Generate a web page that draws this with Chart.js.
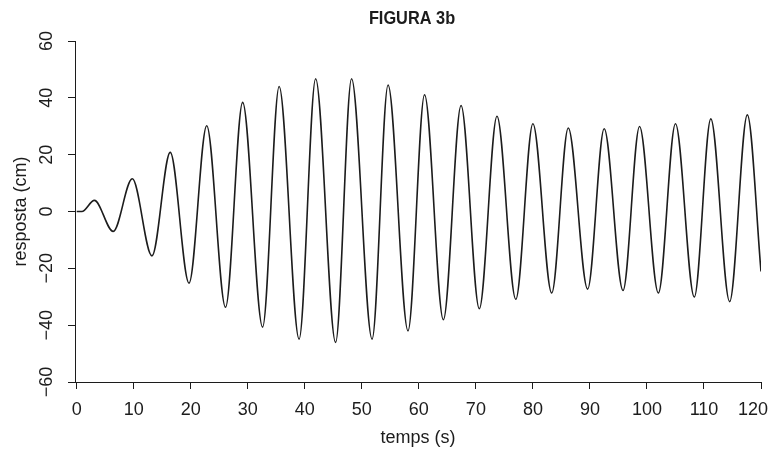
<!DOCTYPE html>
<html>
<head>
<meta charset="utf-8">
<script src="https://cdn.jsdelivr.net/npm/chart.js@4.4.0/dist/chart.umd.min.js"></script>
<style>
  html, body { margin: 0; padding: 0; background: #fff; }
  #wrap { width: 771px; height: 449px; }
</style>
</head>
<body>
<div id="wrap"><canvas id="fig3b"></canvas></div>
<script>
// peaks and troughs (time in s, response in cm)
const respTimes = [0, 0.9, 3.1, 6.4, 9.75, 13.2, 16.4, 19.7, 22.8, 26.1, 29.1, 32.6, 35.5, 39.0,
  41.9, 45.4, 48.2, 51.8, 54.6, 58.1, 61.0, 64.3, 67.4, 70.6, 73.7, 77.0, 80.0, 83.3,
  86.2, 89.6, 92.5, 95.8, 98.7, 102.0, 105.0, 108.3, 111.2, 114.5, 117.6, 120];
const respValues = [0, 0, 3.9, -7.0, 11.5, -15.6, 20.8, -25.2, 30.2, -33.7, 38.4, -40.7, 44.0, -44.9,
  46.7, -46.1, 46.7, -44.9, 44.5, -42.0, 41.1, -38.1, 37.3, -34.2, 33.5, -30.9, 30.9, -28.7,
  29.4, -27.3, 29.1, -27.8, 29.9, -28.7, 30.9, -30.1, 32.6, -31.7, 34.0, -21.1];

const xTicks = [0, 10, 20, 30, 40, 50, 60, 70, 80, 90, 100, 110, 120];
const yTicks = [-60, -40, -20, 0, 20, 40, 60];

const ink = '#1c1c1c';
const fontFam = "'Liberation Sans', Arial, sans-serif";

const points = respTimes.map((t, i) => ({ x: t, y: respValues[i] }));

const fmt = (v) => v < 0 ? '\u2212' + Math.abs(v) : String(v);

// title, rotated y tick labels and x tick labels (last one kept inside the canvas)
const extras = {
  id: 'extras',
  afterDraw(chart) {
    const ctx = chart.ctx;
    const xScale = chart.scales.x;
    const yScale = chart.scales.y;
    ctx.save();
    ctx.fillStyle = ink;
    ctx.textAlign = 'center';
    ctx.textBaseline = 'middle';

    ctx.save();
    ctx.translate(412, 19);
    ctx.scale(0.86, 1);
    ctx.font = 'bold 19px ' + fontFam;
    ctx.fillText('FIGURA 3b', 0, 0);
    ctx.restore();

    ctx.font = '18px ' + fontFam;
    yTicks.forEach((v) => {
      ctx.save();
      ctx.translate(47, yScale.getPixelForValue(v));
      ctx.rotate(-Math.PI / 2);
      ctx.fillText(fmt(v), 0, 0);
      ctx.restore();
    });

    xTicks.forEach((v) => {
      const w = ctx.measureText(String(v)).width;
      let px = xScale.getPixelForValue(v);
      px = Math.min(px, chart.width - 3 - w / 2);
      ctx.fillText(String(v), px, 410);
    });
    ctx.restore();
  }
};

new Chart(document.getElementById('fig3b'), {
  type: 'line',
  data: {
    datasets: [{
      data: points,
      borderColor: ink,
      borderWidth: 1.6,
      pointRadius: 0,
      fill: false,
      cubicInterpolationMode: 'monotone'
    }]
  },
  options: {
    responsive: true,
    maintainAspectRatio: false,
    animation: false,
    layout: { padding: { top: 41, right: 10, left: 0, bottom: 0 } },
    plugins: {
      legend: { display: false },
      tooltip: { enabled: false }
    },
    scales: {
      x: {
        type: 'linear',
        min: -0.3,
        max: 120,
        afterBuildTicks: (axis) => { axis.ticks = xTicks.map(v => ({ value: v })); },
        afterFit: (axis) => { axis.height = 67; axis.paddingLeft = 0; axis.paddingRight = 0; },
        grid: { drawOnChartArea: false, drawTicks: true, tickLength: 7, color: ink, lineWidth: 1 },
        border: { display: true, color: ink, width: 1 },
        ticks: { display: false },
        title: { display: true, text: 'temps (s)', color: ink, font: { family: fontFam, size: 18 }, padding: { top: 0, bottom: 0 } }
      },
      y: {
        type: 'linear',
        min: -60,
        max: 60,
        afterBuildTicks: (axis) => { axis.ticks = yTicks.map(v => ({ value: v })); },
        afterFit: (axis) => { axis.width = 75; axis.paddingTop = 0; axis.paddingBottom = 0; },
        grid: { drawOnChartArea: false, drawTicks: true, tickLength: 7, color: ink, lineWidth: 1 },
        border: { display: true, color: ink, width: 1 },
        ticks: { display: false },
        title: { display: true, text: 'resposta (cm)', color: ink, font: { family: fontFam, size: 18 }, padding: { top: 10, bottom: 0 } }
      }
    }
  },
  plugins: [extras]
});
</script>
</body>
</html>
